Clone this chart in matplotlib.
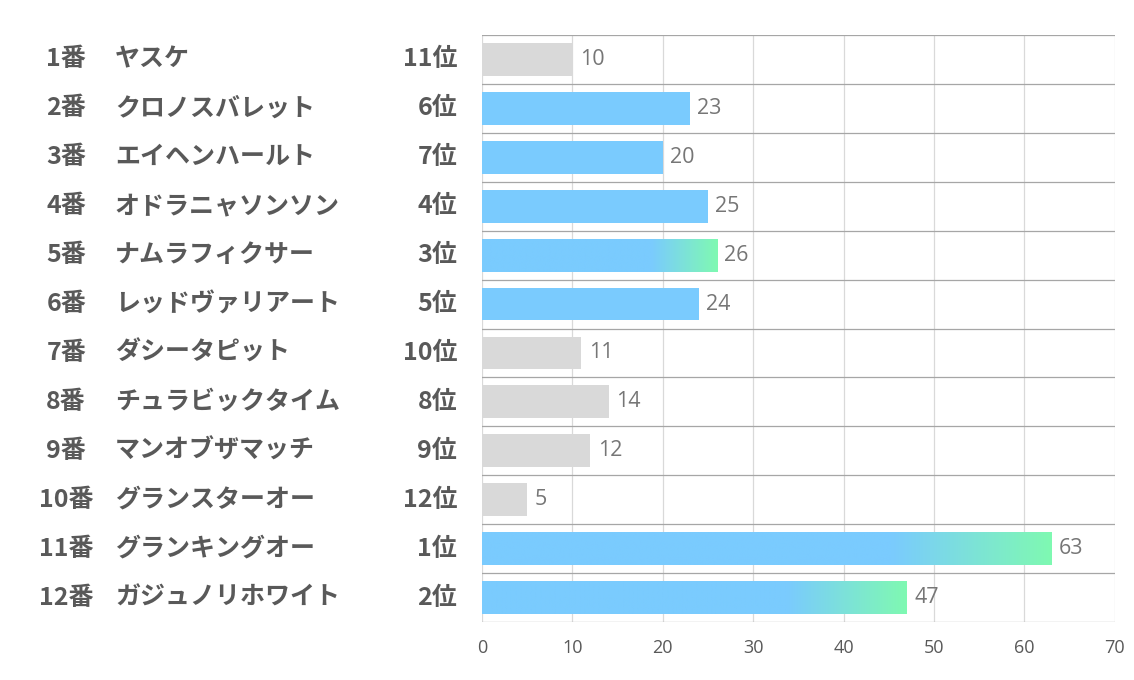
import numpy as np
import matplotlib.pyplot as plt
from matplotlib.colors import LinearSegmentedColormap

plt.rcParams['font.family'] = ['Noto Sans CJK JP', 'DejaVu Sans']

numbers = ['1番', '2番', '3番', '4番', '5番', '6番', '7番', '8番', '9番', '10番', '11番', '12番']
names = ['ヤスケ', 'クロノスバレット', 'エイヘンハールト', 'オドラニャソンソン', 'ナムラフィクサー',
         'レッドヴァリアート', 'ダシータピット', 'チュラビックタイム', 'マンオブザマッチ',
         'グランスターオー', 'グランキングオー', 'ガジュノリホワイト']
ranks = [11, 6, 7, 4, 3, 5, 10, 8, 9, 12, 1, 2]
values = [10, 23, 20, 25, 26, 24, 11, 14, 12, 5, 63, 47]
xticks = [0, 10, 20, 30, 40, 50, 60, 70]

blue = '#7acbfe'
green = '#7ff9b2'
gray = '#d9d9d9'
grad = LinearSegmentedColormap.from_list('bg', [(0, blue), (0.72, blue), (1, green)])

fig = plt.figure(figsize=(11.34, 6.8), dpi=100)
ax = fig.add_axes([0.425, 0.0853, 0.558, 0.8632])

n = len(values)
h = 0.67
ramp = np.linspace(0, 1, 512).reshape(1, -1)
for i, (v, r) in enumerate(zip(values, ranks)):
    if r <= 3:
        ax.imshow(ramp, cmap=grad, aspect='auto', extent=[0, v, i + h / 2, i - h / 2],
                  zorder=3, interpolation='bilinear')
    elif r <= 7:
        ax.barh(i, v, height=h, color=blue, zorder=2)
    else:
        ax.barh(i, v, height=h, color=gray, zorder=2)
    ax.text(v + 0.8, i, str(v), va='center', ha='left', fontsize=15.5,
            family='Open Sans', color='#767676', zorder=4)

ax.set_xlim(0, 70)
ax.set_ylim(n - 0.5, -0.5)
ax.set_xticks(xticks)
ax.set_xticklabels([str(t) for t in xticks], family='Open Sans', fontsize=13, color='#595959')
ax.tick_params(axis='x', length=0, pad=12)
ax.set_yticks([])
for xv in xticks:
    ax.axvline(xv, color='#d9d9d9', lw=0.9, zorder=1)
for yb in np.arange(-0.5, n, 1):
    ax.axhline(yb, color='#a6a6a6', lw=0.9, zorder=1)
for s in ax.spines.values():
    s.set_visible(False)

for i in range(n):
    ax.text(-46.0, i, numbers[i], ha='center', va='center',
            fontsize=18, fontweight='bold', color='#595959', clip_on=False)
    ax.text(-40.6, i, names[i], ha='left', va='center',
            fontsize=18, fontweight='bold', color='#595959', clip_on=False)
    ax.text(-2.75, i, f'{ranks[i]}位', ha='right', va='center',
            fontsize=18, fontweight='bold', color='#595959', clip_on=False)

fig.savefig('out.png', dpi=100)
